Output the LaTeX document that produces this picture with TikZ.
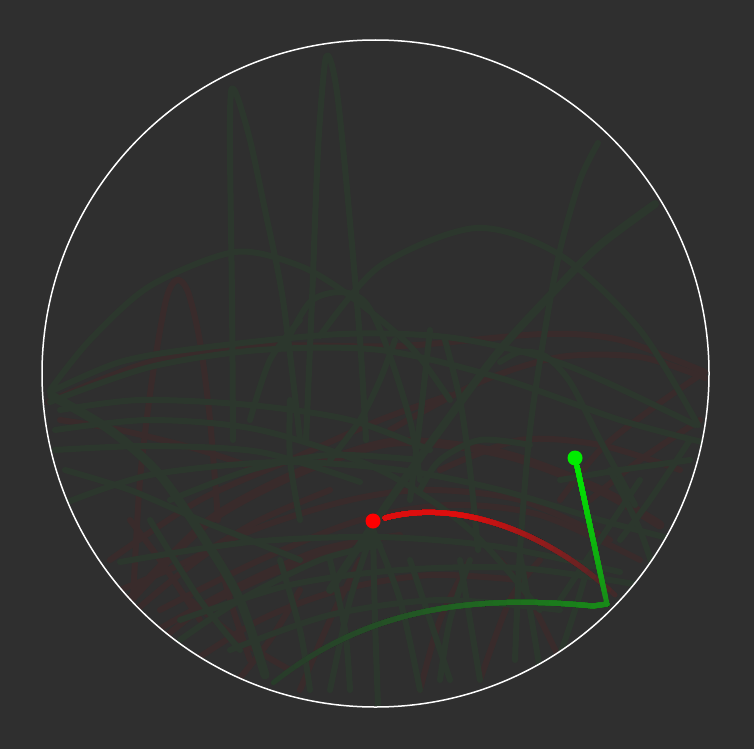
\documentclass[tikz,border=0pt]{standalone}
\usetikzlibrary{calc}
\definecolor{bg}{HTML}{2F2F2F}
\definecolor{fg}{HTML}{2C372D}
\definecolor{fr}{HTML}{392B2B}
\definecolor{tr}{RGB}{220,14,14}
\definecolor{gb}{RGB}{0,236,0}
\definecolor{gm}{RGB}{24,140,24}
\definecolor{ge}{RGB}{40,60,42}
\tikzset{
  faintg/.style={draw=fg, line width=6pt, line cap=round, line join=round},
  faintr/.style={draw=fr, line width=6pt, line cap=round, line join=round},
  trail/.style={line width=5pt, line cap=round},
  dotmark/.style={circle, inner sep=0pt, minimum size=15pt},
}
\begin{document}
\begin{tikzpicture}[x=1pt,y=-1pt]
\fill[bg] (0,0) rectangle (754,749);
\useasboundingbox (0,0) rectangle (754,749);
\begin{scope}
\clip (375.5,373.5) circle (333);
% faint red trails
\draw[faintr] plot[smooth] coordinates {(133,600) (140,480) (152,380) (166,300) (177,280) (188,292) (200,342) (210,420) (218,520)};
\draw[faintr] plot[smooth] coordinates {(48,402) (150,362) (260,346) (400,346) (543,334) (620,340) (705,372)};
\draw[faintr, line width=9pt] plot[smooth] coordinates {(130,600) (209,521) (300,472) (387,443) (460,446) (521,459) (600,490) (660,525)};
\draw[faintr] plot[smooth] coordinates {(125,620) (220,545) (330,505) (420,490) (520,500) (610,540)};
\draw[faintr] plot[smooth] coordinates {(390,430) (480,382) (560,357) (640,357) (705,378)};
\draw[faintr] plot[smooth] coordinates {(700,375) (650,410) (600,450) (560,500)};
\draw[faintr] plot[smooth] coordinates {(700,420) (640,460) (590,500)};
\draw[faintr] plot[smooth] coordinates {(60,420) (120,430) (200,450) (260,470)};
\draw[faintr] plot[smooth] coordinates {(140,640) (230,590) (320,550) (400,535)};
\draw[faintr] plot[smooth] coordinates {(180,670) (260,620) (340,590) (430,575) (520,580)};
\draw[faintr] plot[smooth] coordinates {(300,690) (330,620) (360,560)};
\draw[faintr] plot[smooth] coordinates {(420,690) (440,620) (470,560)};
\draw[faintr] plot[smooth] coordinates {(480,680) (510,600) (540,560)};
\draw[faintr] plot[smooth] coordinates {(560,660) (530,600) (500,560)};
\draw[faintr] plot[smooth] coordinates {(250,660) (230,600) (220,560)};
\draw[faintr] plot[smooth] coordinates {(440,470) (520,440) (600,445) (680,470)};
\draw[faintr] plot[smooth] coordinates {(110,560) (200,500) (290,460) (380,420) (450,395)};
\draw[faintr] plot[smooth] coordinates {(160,610) (260,560) (360,520) (450,505) (540,515) (640,560)};
\draw[faintr] plot[smooth] coordinates {(230,690) (270,640) (300,590)};
\draw[faintr] plot[smooth] coordinates {(120,590) (190,560) (260,520) (330,490)};
\draw[faintr] plot[smooth] coordinates {(150,650) (200,610) (270,575) (350,545)};
\draw[faintr] plot[smooth] coordinates {(190,600) (240,640) (290,670)};
\draw[faintr] plot[smooth] coordinates {(130,520) (160,560) (200,620)};
% faint green trails
\draw[faintg] plot[smooth] coordinates {(233,440) (232,300) (230,150) (231,92) (237,96) (250,140) (265,210) (283,300) (300,440)};
\draw[faintg] plot[smooth] coordinates {(306,440) (312,300) (318,150) (325,62) (331,62) (338,100) (348,200) (360,340) (366,440)};
\draw[faintg] plot[smooth] coordinates {(50,390) (90,340) (150,286) (235,252) (300,266) (350,296) (410,346) (450,400)};
\draw[faintg] plot[smooth] coordinates {(320,336) (380,266) (476,228) (560,255) (640,330) (698,425)};
\draw[faintg, line width=8pt] plot[smooth] coordinates {(655,204) (600,245) (560,285) (500,350) (440,430) (390,500) (330,590)};
\draw[faintg] plot[smooth] coordinates {(598,143) (580,180) (560,250) (545,330) (530,430) (520,550) (515,660)};
\draw[faintg] plot[smooth] coordinates {(50,392) (120,362) (200,348) (342,334) (454,338) (566,365) (695,425)};
\draw[faintg] plot[smooth] coordinates {(50,402) (150,367) (260,350) (380,350) (500,378) (620,420) (702,442)};
\draw[faintg] plot[smooth] coordinates {(55,430) (150,420) (260,430) (380,470) (470,530) (540,610)};
\draw[faintg] plot[smooth] coordinates {(55,450) (150,446) (260,452) (360,482)};
\draw[faintg, line width=9pt] plot[smooth] coordinates {(52,396) (110,430) (160,475) (205,540) (240,600) (265,675)};
\draw[faintg] plot[smooth] coordinates {(285,345) (310,302) (340,292) (365,302) (385,342) (410,420) (420,480)};
\draw[faintg] plot[smooth] coordinates {(500,362) (520,352) (545,356) (570,382) (600,440) (635,505)};
\draw[faintg] plot[smooth] coordinates {(60,505) (150,475) (280,462) (400,470) (500,490) (600,520) (695,545)};
\draw[faintg] plot[smooth] coordinates {(120,562) (250,542) (380,537) (500,547) (620,572)};
\draw[faintg] plot[smooth] coordinates {(180,620) (290,585) (400,570) (520,568) (640,585)};
\draw[faintg] plot[smooth] coordinates {(230,650) (330,615) (440,600) (560,610)};
\draw[faintg] plot[smooth] coordinates {(65,470) (130,490) (200,520) (300,560)};
\draw[faintg] plot[smooth] coordinates {(445,340) (460,400) (470,470) (478,550)};
\draw[faintg] plot[smooth] coordinates {(250,420) (270,360) (300,320)};
\draw[faintg] plot[smooth] coordinates {(430,330) (420,420) (410,500)};
\draw[faintg] plot[smooth] coordinates {(373,530) (375,620) (378,705)};
\draw[faintg] plot[smooth] coordinates {(373,530) (350,600) (330,690)};
\draw[faintg] plot[smooth] coordinates {(373,530) (400,600) (420,690)};
\draw[faintg] plot[smooth] coordinates {(330,560) (345,630) (350,690)};
\draw[faintg] plot[smooth] coordinates {(280,560) (300,630) (310,690)};
\draw[faintg] plot[smooth] coordinates {(460,560) (470,620) (480,680)};
\draw[faintg] plot[smooth] coordinates {(520,555) (530,610) (540,670)};
\draw[faintg] plot[smooth] coordinates {(590,560) (575,610) (560,655)};
\draw[faintg] plot[smooth] coordinates {(470,560) (450,620) (440,680)};
\draw[faintg] plot[smooth] coordinates {(410,560) (430,620) (450,680)};
\draw[faintg] plot[smooth] coordinates {(640,480) (600,540) (560,600)};
\draw[faintg] plot[smooth] coordinates {(690,440) (650,500) (620,540)};
\draw[faintg] plot[smooth] coordinates {(150,520) (200,600) (240,650)};
\draw[faintg] plot[smooth] coordinates {(180,640) (240,600) (320,560) (380,545)};
\draw[faintg] plot[smooth] coordinates {(420,490) (440,460) (480,440) (530,445)};
\draw[faintg] plot[smooth] coordinates {(330,460) (360,420) (380,380) (395,340)};
\draw[faintg] plot[smooth] coordinates {(60,410) (140,400) (250,405) (350,420) (430,450)};
\draw[faintg] plot[smooth] coordinates {(170,500) (250,470) (330,455) (420,460)};
\draw[faintg] plot[smooth] coordinates {(690,460) (620,470) (560,480)};
\draw[faintg] plot[smooth] coordinates {(300,520) (290,460) (290,400)};
\draw[faintg] plot[smooth] coordinates {(610,470) (640,530) (660,590)};
\end{scope}
% red trail: prefixes of one smooth path, dimmest first
\foreach \i in {0,...,24}{
  \pgfmathsetmacro{\s}{1-\i/25}
  \pgfmathsetmacro{\len}{255*\s}
  \pgfmathsetmacro{\p}{min(100,5+95*(1-\s)/0.68)}
  \draw[trail, color=tr!\p!fr, dash pattern=on \len pt off 3000pt]
    (385,518) .. controls (450,500) and (540,525) .. (615,595);
}
% green trail bottom
\foreach \i in {0,...,24}{
  \pgfmathsetmacro{\s}{1-\i/25}
  \pgfmathsetmacro{\len}{352*\s}
  \pgfmathsetmacro{\p}{100*(1-\s)^1.3}
  \draw[trail, color=gm!\p!ge, dash pattern=on \len pt off 3000pt, line join=round]
    (607,604) -- (593,606) .. controls (480,595) and (370,605) .. (273,683);
}
% green arm
\foreach \i in {0,...,19}{
  \pgfmathsetmacro{\s}{1-\i/20}
  \pgfmathsetmacro{\len}{141.2*\s}
  \pgfmathsetmacro{\p}{100*(1-\s)}
  \draw[trail, color=gb!\p!gm, dash pattern=on \len pt off 3000pt]
    (577,466) -- (607,604);
}
% boundary
\node[circle, draw=white, line width=1.5pt, minimum size=667pt, inner sep=0pt] (rim) at (375.5,373.5) {};
% bobs
\node[dotmark, fill=red] (bobr) at (373,521) {};
\node[dotmark, fill=gb] (bobg) at (575,458) {};
\end{tikzpicture}
\end{document}
